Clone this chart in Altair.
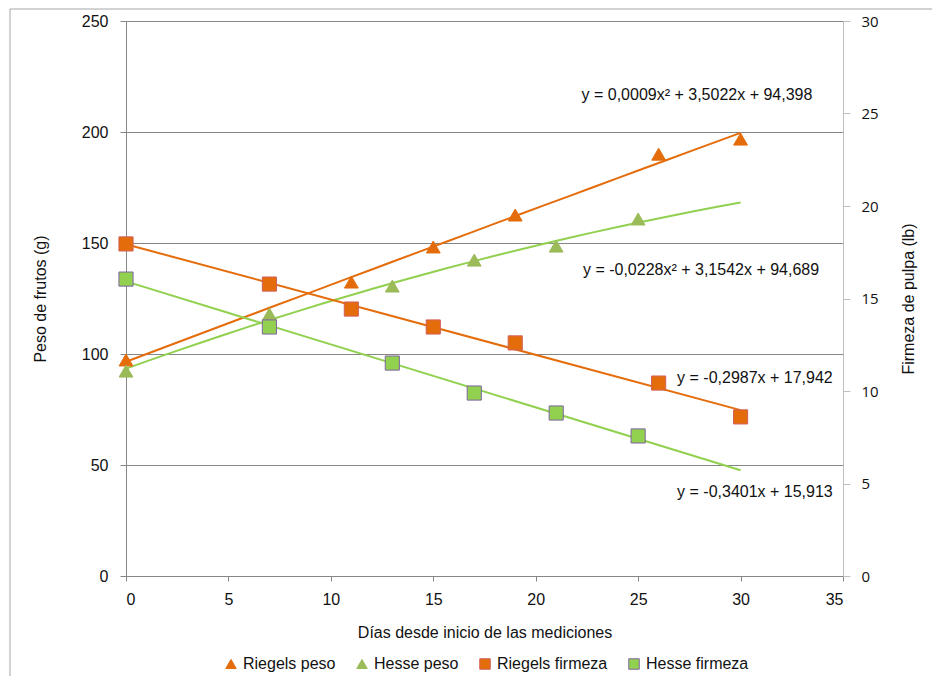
import altair as alt
import pandas as pd

# ---- data ----
dias_riegels_peso = [0, 11, 15, 19, 26, 30]
riegels_peso = [97.3, 132.4, 148.2, 162.6, 190.0, 196.8]
dias_hesse_peso = [0, 7, 13, 17, 21, 25]
hesse_peso = [92.3, 118.0, 130.6, 142.3, 148.6, 160.8]
dias_riegels_firmeza = [0, 7, 11, 15, 19, 26, 30]
riegels_firmeza = [17.95, 15.78, 14.43, 13.46, 12.60, 10.43, 8.60]
dias_hesse_firmeza = [0, 7, 13, 17, 21, 25]
hesse_firmeza = [16.05, 13.46, 11.51, 9.89, 8.81, 7.57]

series = ["Riegels peso", "Hesse peso", "Riegels firmeza", "Hesse firmeza"]
fill_colors = ["#E46C0A", "#9BBB59", "#E46C0A", "#92D050"]
stroke_colors = ["#E46C0A", "#9BBB59", "#D0605A", "#8064A2"]
shapes = ["triangle-up", "triangle-up", "square", "square"]

equations = [
    "y = 0,0009x² + 3,5022x + 94,398",
    "y = -0,0228x² + 3,1542x + 94,689",
    "y = -0,2987x + 17,942",
    "y = -0,3401x + 15,913",
]
eq_x = [27.87, 28.07, 30.70, 30.70]
eq_y = [216.7, 137.8, 89.2, 37.8]

x_ticks = [0, 5, 10, 15, 20, 25, 30, 35]
left_ticks = [0, 50, 100, 150, 200, 250]
right_ticks = [0, 5, 10, 15, 20, 25, 30]

# ---- tables ----
def rows(name, xs, ys):
    return pd.DataFrame({"serie": name, "dias": xs, "valor": ys})

peso_df = pd.concat([rows(series[0], dias_riegels_peso, riegels_peso),
                     rows(series[1], dias_hesse_peso, hesse_peso)], ignore_index=True)
firm_df = pd.concat([rows(series[2], dias_riegels_firmeza, riegels_firmeza),
                     rows(series[3], dias_hesse_firmeza, hesse_firmeza)], ignore_index=True)
eq_df = pd.DataFrame({"eq": equations, "dias": eq_x, "valor": eq_y})
frame_df = pd.DataFrame({"k": [0]})

FONT = "Liberation Sans"

x_enc = alt.X("dias:Q",
              scale=alt.Scale(domain=[0, 35], nice=False, zero=False),
              axis=alt.Axis(values=x_ticks, title="Días desde inicio de  las  mediciones",
                            grid=False, domainColor="#868686", tickColor="#868686",
                            tickSize=5, labelPadding=10, titlePadding=17,
                            labelFont=FONT, labelFontSize=16, titleFont=FONT,
                            titleFontSize=16, titleFontWeight="normal",
                            labelColor="#111111", titleColor="#111111"))

y_left = alt.Y("valor:Q",
               scale=alt.Scale(domain=[0, 250], nice=False),
               axis=alt.Axis(values=left_ticks, title="Peso de frutos (g)", orient="left",
                             grid=True, gridColor="#868686", gridWidth=1,
                             domainColor="#868686", tickColor="#868686", tickSize=6,
                             labelPadding=12, titlePadding=33,
                             labelFont=FONT, labelFontSize=16, titleFont=FONT,
                             titleFontSize=16, titleFontWeight="normal",
                             labelColor="#111111", titleColor="#111111"))

y_right = alt.Y("valor:Q",
                scale=alt.Scale(domain=[0, 30], nice=False),
                axis=alt.Axis(values=right_ticks, title="Firmeza de pulpa (lb)", orient="right",
                              grid=False, domainColor="#BFBFBF", tickColor="#BFBFBF",
                              tickSize=7, labelPadding=11, titlePadding=38, titleAngle=270,
                              labelFont="Open Sans", labelFontSize=15, titleFont=FONT,
                              titleFontSize=16, titleFontWeight="normal",
                              labelColor="#111111", titleColor="#111111"))

legend = alt.Legend(title=None, orient="none", legendX=97, legendY=635,
                    direction="horizontal", columnPadding=18, symbolSize=110,
                    labelFont=FONT, labelFontSize=16, labelColor="#111111",
                    labelOffset=4, padding=0, symbolStrokeWidth=1)

color_enc = alt.Color("serie:N", scale=alt.Scale(domain=series, range=fill_colors), legend=legend)
shape_enc = alt.Shape("serie:N", scale=alt.Scale(domain=series, range=shapes), legend=legend)
stroke_enc = alt.Stroke("serie:N", scale=alt.Scale(domain=series, range=stroke_colors), legend=legend)

frame = alt.Chart(frame_df).mark_rect(fill="transparent", stroke="#A6A6A6", strokeWidth=1,
                                      clip=False).encode(
    x=alt.value(-116), x2=alt.value(811), y=alt.value(-12), y2=alt.value(660))

peso_lines = alt.Chart(peso_df).transform_regression(
    "dias", "valor", groupby=["serie"], method="poly", order=2, extent=[0, 30]
).mark_line(strokeWidth=2).encode(
    x=x_enc, y=y_left, detail="serie:N",
    color=alt.condition("datum.serie == 'Riegels peso'", alt.value("#E46C0A"), alt.value("#92D050")))

peso_points = alt.Chart(peso_df).mark_point(filled=True, size=190, strokeWidth=1, opacity=1).encode(
    x=x_enc, y=y_left, color=color_enc, shape=shape_enc, stroke=stroke_enc)

eq_text = alt.Chart(eq_df).mark_text(font=FONT, fontSize=16, color="#111111",
                                     align="center", baseline="middle").encode(
    x=x_enc, y=y_left, text="eq:N")

firm_lines = alt.Chart(firm_df).transform_regression(
    "dias", "valor", groupby=["serie"], method="linear", extent=[0, 30]
).mark_line(strokeWidth=2).encode(
    x=x_enc, y=y_right, detail="serie:N",
    color=alt.condition("datum.serie == 'Riegels firmeza'", alt.value("#E46C0A"), alt.value("#92D050")))

firm_points = alt.Chart(firm_df).mark_point(filled=True, size=200, strokeWidth=1, opacity=1).encode(
    x=x_enc, y=y_right, color=color_enc, shape=shape_enc, stroke=stroke_enc)

left = alt.layer(frame, peso_lines, peso_points, eq_text)
right = alt.layer(firm_lines, firm_points)

chart = alt.layer(left, right).resolve_scale(y="independent").properties(
    width=717, height=555,
    autosize=alt.AutoSizeParams(type="none"),
    padding={"left": 118, "top": 13, "right": 89, "bottom": 100},
).configure_view(stroke="transparent").configure(background="white")

chart.save("out.html", embed_options={"renderer": "svg", "actions": False})
